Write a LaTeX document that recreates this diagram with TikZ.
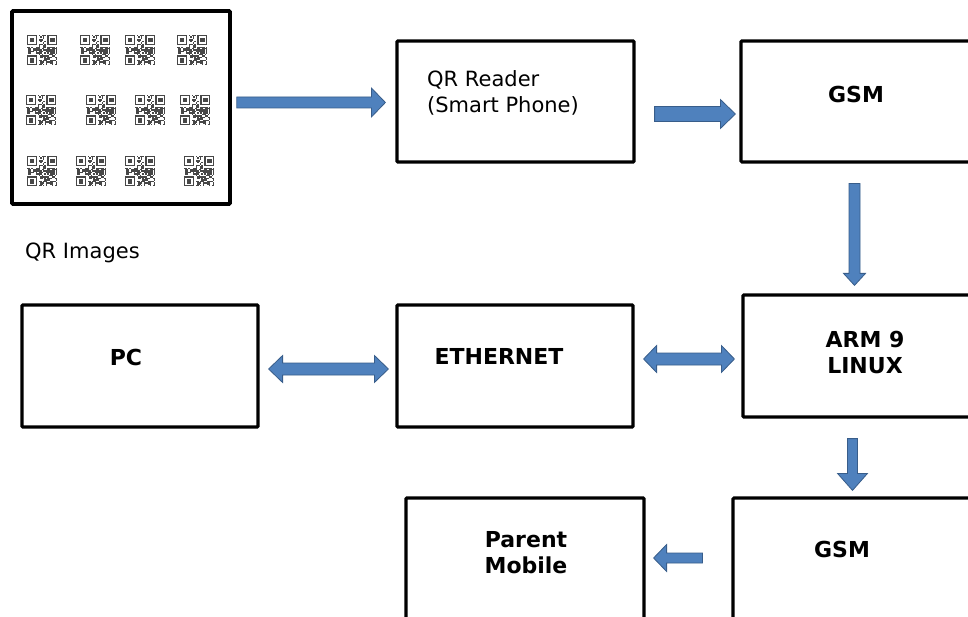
\documentclass[tikz,border=0pt]{standalone}
\usepackage{fontspec}
\setmainfont{DejaVu Sans}
\usetikzlibrary{calc}
\definecolor{arrfill}{RGB}{79,129,189}
\definecolor{arrdraw}{RGB}{56,93,138}
\colorlet{qrc}{black!72}
\begin{document}
\begin{tikzpicture}[x=1pt,y=-1pt]
\tikzset{
  box/.style={draw=black, line width=3.2pt, rounded corners=1pt, inner sep=0pt, fill=white},
  reg/.style={font=\fontsize{21}{26}\selectfont, inner sep=0pt},
  bld/.style={font=\fontsize{22}{26}\selectfont\bfseries, inner sep=0pt, align=center},
  bw/.store in=\bw, bh/.store in=\bh, bl/.store in=\bl,
  bw=5.5pt, bh=14.5pt, bl=14pt,
  arrsty/.style={draw=arrdraw, fill=arrfill, line width=0.8pt, line join=miter},
  blk/.style={arrsty, to path={let \p1=(\tikztostart), \p2=(\tikztotarget) in
    ($(\p1)!\bw!90:(\p2)$) -- ($(\p2)!\bl!(\p1)!\bw!-90:(\p1)$) -- ($(\p2)!\bl!(\p1)!\bh!-90:(\p1)$) -- (\p2)
    -- ($(\p2)!\bl!(\p1)!\bh!90:(\p1)$) -- ($(\p2)!\bl!(\p1)!\bw!90:(\p1)$) -- ($(\p1)!\bw!-90:(\p2)$) -- cycle}},
  dblk/.style={arrsty, to path={let \p1=(\tikztostart), \p2=(\tikztotarget) in
    (\p1) -- ($(\p1)!\bl!(\p2)!\bh!90:(\p2)$) -- ($(\p1)!\bl!(\p2)!\bw!90:(\p2)$)
    -- ($(\p2)!\bl!(\p1)!\bw!-90:(\p1)$) -- ($(\p2)!\bl!(\p1)!\bh!-90:(\p1)$) -- (\p2)
    -- ($(\p2)!\bl!(\p1)!\bh!90:(\p1)$) -- ($(\p2)!\bl!(\p1)!\bw!90:(\p1)$)
    -- ($(\p1)!\bl!(\p2)!\bw!-90:(\p2)$) -- ($(\p1)!\bl!(\p2)!\bh!-90:(\p2)$) -- cycle}},
  qr/.pic={
    \pgfmathsetseed{4242}
    \foreach \i in {0,...,20}{\foreach \j in {0,...,20}{
      \pgfmathtruncatemacro{\skp}{((\i<8)&&(\j<8))||((\i>12)&&(\j<8))||((\i<8)&&(\j>12))}
      \pgfmathrandominteger{\rr}{0}{9}
      \ifnum\skp=0 \ifnum\rr<6 \fill[qrc] (\i*1.45,\j*1.45) rectangle ++(1.45,1.45);\fi\fi
    }}
    \foreach \a/\b in {0/0,14/0,0/14}{
      \fill[qrc] (\a*1.45,\b*1.45) rectangle ++(7*1.45,7*1.45);
      \fill[white] (\a*1.45+1.45,\b*1.45+1.45) rectangle ++(5*1.45,5*1.45);
      \fill[qrc] (\a*1.45+2.9,\b*1.45+2.9) rectangle ++(3*1.45,3*1.45);
    }
  }
}
\useasboundingbox (0,0) rectangle (968,617);
\fill[white] (0,0) rectangle (968,617);

% boxes
\node[box, line width=3.6pt, minimum width=218pt, minimum height=193pt] (qrbox) at (121,107.5) {};
\node[box, minimum width=237pt, minimum height=121pt] (reader) at (515.5,101.5) {};
\node[box, minimum width=234pt, minimum height=121pt] (gsm1) at (858,101.5) {};
\node[box, minimum width=232pt, minimum height=122pt] (arm) at (859,356) {};
\node[box, minimum width=236pt, minimum height=122pt] (pc) at (140,366) {};
\node[box, minimum width=236pt, minimum height=122pt] (eth) at (515,366) {};
\node[box, minimum width=238pt, minimum height=132pt] (parent) at (525,564) {};
\node[box, minimum width=242pt, minimum height=132pt] (gsm2) at (854,564) {};

% QR codes
\foreach \x/\y in {27/35,80/35,125/35,177/35,26/95,86/95,135/95,180/95,27/156,76/156,125/156,184/156}{
  \pic at (\x,\y) {qr};
}

% labels
\node[reg, anchor=west] (qrlbl) at (25,253) {QR Images};
\node[reg, anchor=west, align=left] (readerlbl) at (427,93) {QR Reader\\(Smart Phone)};
\node[bld] (gsm1lbl) at (856,94) {GSM};
\node[bld] (armlbl) at (865,353) {ARM 9\\LINUX};
\node[bld] (pclbl) at (126,357) {PC};
\node[bld] (ethlbl) at (499,356) {ETHERNET};
\node[bld] (parentlbl) at (526,553) {Parent\\Mobile};
\node[bld] (gsm2lbl) at (842,549) {GSM};

% arrows
\path[blk, bw=5.5pt, bh=14.5pt, bl=14pt] ([shift={(5,-5)}]qrbox.east) to ([shift={(-10,1)}]reader.west);
\path[blk, bw=7.5pt, bh=14.5pt, bl=15pt] ([shift={(19,12.5)}]reader.east) to ([shift={(-4,12.5)}]gsm1.west);
\path[blk, bw=5.5pt, bh=11pt, bl=12pt] ([shift={(-3.5,20)}]gsm1.south) to ([shift={(-4.5,-8)}]arm.north);
\path[dblk, bw=6pt, bh=13.5pt, bl=14pt] ([shift={(9,3)}]pc.east) to ([shift={(-7,3)}]eth.west);
\path[dblk, bw=6pt, bh=13.5pt, bl=13pt] ([shift={(9,-7)}]eth.east) to ([shift={(-7,3)}]arm.west);
\path[blk, bw=5pt, bh=15pt, bl=17pt] ([shift={(-6.5,20)}]arm.south) to ([shift={(-1.5,-6)}]gsm2.north);
\path[blk, bw=5pt, bh=13.5pt, bl=13pt] ([shift={(-29,-6)}]gsm2.west) to ([shift={(8,-6)}]parent.east);
\end{tikzpicture}
\end{document}
